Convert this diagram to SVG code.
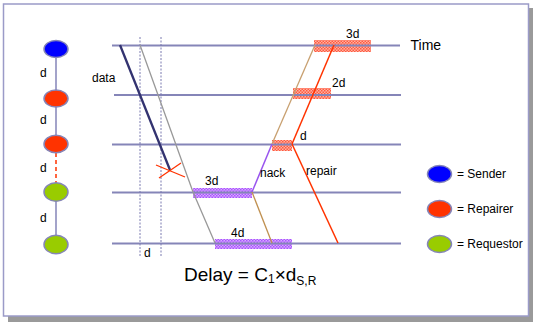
<svg xmlns="http://www.w3.org/2000/svg" width="533" height="322" viewBox="0 0 533 322">
<defs>
<pattern id="pp" width="3" height="3" patternUnits="userSpaceOnUse">
<rect width="3" height="3" fill="#d9a8ff"/>
<rect width="1.5" height="1.5" fill="#a855ff"/>
<rect x="1.5" y="1.5" width="1.5" height="1.5" fill="#a855ff"/>
</pattern>
<pattern id="rp" width="3" height="3" patternUnits="userSpaceOnUse">
<rect width="3" height="3" fill="#ffb0a0"/>
<rect width="1.5" height="1.5" fill="#ff5a40"/>
<rect x="1.5" y="1.5" width="1.5" height="1.5" fill="#ff5a40"/>
</pattern>
</defs>
<style>
text{font-family:"Liberation Sans",Arial,sans-serif;fill:#000}
.s{font-size:12px}
.h{stroke:#8585b8;stroke-width:1.8;fill:none}
.v{stroke:#7a7ab0;stroke-width:1;stroke-dasharray:2 1.5;fill:none}
.n{stroke:#8585b8;stroke-width:1.5}
.blue{fill:#0000ff}
.red{fill:#ff3300}
.green{fill:#99cc00}
</style>
<rect x="8" y="8" width="525" height="314" fill="#9a9a9a"/>
<rect x="3.5" y="4" width="525" height="312" fill="#fff" stroke="#9b9bc8" stroke-width="1.5"/>

<g id="bars">
<rect x="193" y="188" width="59" height="10" fill="url(#pp)"/>
<rect x="215" y="239" width="77" height="10" fill="url(#pp)"/>
<rect x="272" y="140" width="20" height="11" fill="url(#rp)"/>
<rect x="293" y="88" width="38" height="11" fill="url(#rp)"/>
<rect x="314" y="40" width="57" height="12" fill="url(#rp)"/>
</g>

<g id="timelines">
<line class="h" x1="112" y1="45.5" x2="400" y2="45.5"/>
<line class="h" x1="114" y1="95" x2="401" y2="95"/>
<line class="h" x1="112" y1="144.5" x2="401" y2="144.5"/>
<line class="h" x1="112" y1="192.5" x2="401" y2="192.5"/>
<line class="h" x1="112" y1="243.5" x2="401" y2="243.5"/>
<line class="v" x1="140" y1="37" x2="140" y2="257"/>
<line class="v" x1="161" y1="37" x2="161" y2="257"/>
</g>

<g id="connectors" fill="none">
<line x1="120" y1="45" x2="170" y2="170" stroke="#333370" stroke-width="2.3"/>
<line x1="156" y1="165" x2="185" y2="177" stroke="#ff3300" stroke-width="1.3"/>
<line x1="159" y1="178" x2="181" y2="163" stroke="#ff3300" stroke-width="1.3"/>
<polyline points="140,45 193,192 215,243" stroke="#999" stroke-width="1.3"/>
<line x1="252" y1="192" x2="272" y2="144" stroke="#9955ee" stroke-width="1.5"/>
<line x1="272" y1="144" x2="315" y2="45" stroke="#c8a070" stroke-width="1.3"/>
<line x1="252" y1="192" x2="272" y2="243" stroke="#c09050" stroke-width="1.3"/>
<line x1="292" y1="144" x2="334" y2="45" stroke="#ff3300" stroke-width="1.5"/>
<line x1="292" y1="144" x2="338" y2="243" stroke="#ff3300" stroke-width="1.5"/>
<line class="n" x1="56" y1="57" x2="56" y2="90"/>
<line class="n" x1="56" y1="107" x2="56" y2="135"/>
<line x1="56" y1="153" x2="56" y2="183" stroke="#ff3300" stroke-width="1.5" stroke-dasharray="4 3"/>
<line class="n" x1="56" y1="201" x2="56" y2="235"/>
</g>

<g id="sender"><ellipse class="blue n" cx="56" cy="49" rx="12" ry="8.5"/></g>
<g id="repairer1"><ellipse class="red n" cx="56" cy="98.5" rx="12" ry="8.5"/></g>
<g id="repairer2"><ellipse class="red n" cx="56" cy="144" rx="12" ry="8.8"/></g>
<g id="requestor1"><ellipse class="green n" cx="56" cy="192" rx="12" ry="9.2"/></g>
<g id="requestor2"><ellipse class="green n" cx="56" cy="244.5" rx="12" ry="9.2"/></g>

<g id="labels" class="s">
<text class="s" x="40" y="77">d</text>
<text class="s" x="40" y="124">d</text>
<text class="s" x="40" y="171.5">d</text>
<text class="s" x="40" y="221.5">d</text>
<text class="s" x="92" y="82">data</text>
<text class="s" x="144" y="257">d</text>
<text class="s" x="205" y="185">3d</text>
<text class="s" x="231" y="237">4d</text>
<text class="s" x="260" y="177">nack</text>
<text class="s" x="306" y="175">repair</text>
<text class="s" x="300" y="140">d</text>
<text class="s" x="332" y="87">2d</text>
<text class="s" x="346" y="38">3d</text>
<text x="410.5" y="49.5" font-size="14">Time</text>
<text x="184" y="281" font-size="19">Delay = C<tspan font-size="12" dy="2">1</tspan><tspan dy="-2">×d</tspan><tspan font-size="12" dy="4">S,R</tspan></text>
</g>

<g id="legend-sender"><ellipse class="blue n" cx="439.5" cy="174" rx="12" ry="8.5"/><text class="s" x="457" y="178">= Sender</text></g>
<g id="legend-repairer"><ellipse class="red n" cx="439.5" cy="209" rx="12" ry="8.5"/><text class="s" x="457" y="213">= Repairer</text></g>
<g id="legend-requestor"><ellipse class="green n" cx="439.5" cy="244" rx="12" ry="8.5"/><text class="s" x="457" y="248">= Requestor</text></g>
</svg>
